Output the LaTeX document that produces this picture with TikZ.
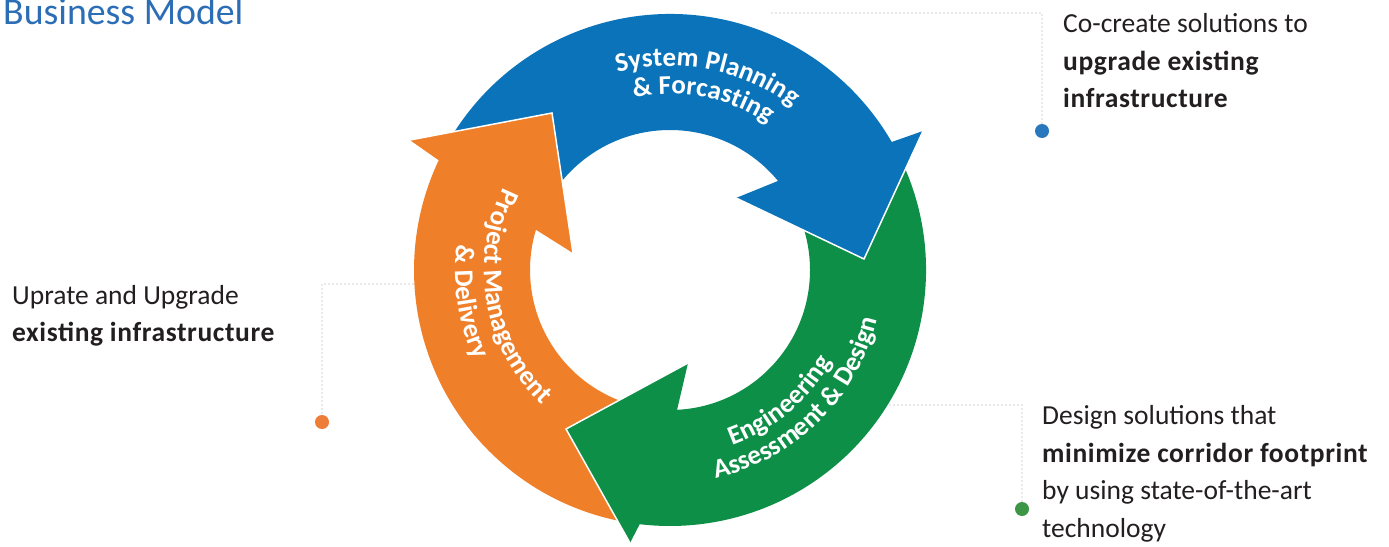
\documentclass[tikz,border=0pt]{standalone}
\usepackage{fontspec}
\setmainfont{Carlito}[BoldFeatures={LetterSpace=2.2}]
\newfontfamily\lblfam{Carlito}
\usetikzlibrary{calc,decorations.text}
\definecolor{cblue}{RGB}{10,115,185}
\definecolor{cgreen}{RGB}{14,143,72}
\definecolor{corange}{RGB}{240,127,41}
\definecolor{ctitle}{RGB}{44,110,182}
\definecolor{ctext}{RGB}{35,31,32}
\definecolor{dblue}{RGB}{40,120,190}
\definecolor{dorange}{RGB}{238,125,55}
\definecolor{dgreen}{RGB}{60,150,70}
\definecolor{cdots}{RGB}{160,160,160}
\newcommand\lblfont{\lblfam\fontsize{27}{30}\selectfont\bfseries}
\begin{document}
\begin{tikzpicture}[x=1pt,y=1pt,
  sidetext/.style={anchor=base west, inner sep=0pt, align=left, text=ctext, font=\fontsize{27.5}{37.5}\selectfont},
  leader/.style={draw=cdots, line width=1.3pt, dash pattern=on 0pt off 4pt, line cap=round},
  dotmark/.style={circle, inner sep=0pt, minimum size=14pt},
  tipedge/.style={draw=white, line width=1.5pt, line join=miter},
  lbl/.style={decorate, decoration={text along path, text align=center, text color=white, text={|\lblfont|#1}}},
]
\useasboundingbox (0,0) rectangle (1389,-546);
\fill[white] (0,0) rectangle (1389,-546);
\coordinate (C) at (670,-270);
\def\Ro{256pt}\def\Ri{140pt}
% arrowhead corners
\coordinate (bOB) at (923,-131); \coordinate (bT) at (864,-259); \coordinate (bIB) at (736,-198);
\coordinate (gOB) at (630,-543); \coordinate (gT) at (566,-429); \coordinate (gIB) at (688,-363);
\coordinate (oOB) at (410,-140); \coordinate (oT) at (552,-113); \coordinate (oIB) at (573,-253);
% orange arrow
\fill[corange] ($(C)+(263.2:\Ro)$) arc[start angle=263.2, end angle=154.6, radius=\Ro]
  -- (oOB) -- (oT) -- (oIB) -- ($(C)+(163.3:\Ri)$) arc[start angle=163.3, end angle=272.9, radius=\Ri] -- cycle;
% green arrow
\fill[cgreen] ($(C)+(30.0:\Ro)$) arc[start angle=30.0, end angle=-96.8, radius=\Ro]
  -- (gOB) -- (gT) -- (gIB) -- ($(C)+(-87.1:\Ri)$) arc[start angle=-87.1, end angle=39.5, radius=\Ri] -- cycle;
% blue arrow (tail hidden under the orange arrowhead)
\fill[cblue] ($(C)+(152:\Ro)$) arc[start angle=152, end angle=30.0, radius=\Ro]
  -- (bOB) -- (bT) -- (bIB) -- ($(C)+(39.5:\Ri)$) arc[start angle=39.5, end angle=158, radius=\Ri] -- cycle;
% orange arrowhead on top of blue tail
\fill[corange] (oOB) -- (oT) -- (oIB) -- cycle;
% white edges of arrowheads
\draw[tipedge] (oOB) -- (oT) -- (oIB);
\draw[tipedge] (gOB) -- (gT) -- (gIB);
\draw[tipedge] (bOB) -- (bT) -- (bIB);
% curved labels
\path[lbl={System Planning}] ($(C)+(140:204pt)$) arc[start angle=140, end angle=18, radius=204pt];
\path[lbl={{\&} Forcasting}] ($(C)+(140:176pt)$) arc[start angle=140, end angle=18, radius=176pt];
\path[lbl={Project Management}] ($(C)+(130:186pt)$) arc[start angle=130, end angle=250, radius=186pt];
\path[lbl={{\&} Delivery}] ($(C)+(129:215pt)$) arc[start angle=129, end angle=249, radius=215pt];
\path[lbl={Engineering}] ($(C)+(-110:186pt)$) arc[start angle=-110, end angle=10, radius=186pt];
\path[lbl={Assessment {\&} Design}] ($(C)+(-105.5:213pt)$) arc[start angle=-105.5, end angle=14.5, radius=213pt];
% title and side texts (anchor = baseline of the last line)
\node[anchor=base west, inner sep=0pt, text=ctitle, font=\fontsize{37.8}{40}\selectfont] (title) at (3,-24) {Business Model};
\node[sidetext] (ttop) at (1063,-107.5) {Co-create solutions to\\\textbf{upgrade existing}\\\textbf{infrastructure}};
\node[sidetext] (tleft) at (12,-341.7) {Uprate and Upgrade\\\textbf{existing infrastructure}};
\node[sidetext] (tbot) at (1042,-537) {Design solutions that\\\textbf{minimize corridor footprint}\\by using state-of-the-art\\technology};
% leaders and dots
\node[dotmark, fill=dblue] (bdot) at (1042,-131) {};
\node[dotmark, fill=dorange] (odot) at (322,-422) {};
\node[dotmark, fill=dgreen] (gdot) at (1022,-509) {};
\coordinate (bstart) at (772,-13);
\coordinate (ostart) at (413,-284);
\coordinate (gstart) at (890,-405);
\draw[leader] (bstart) -| (bdot);
\draw[leader] (ostart) -| (odot);
\draw[leader] (gstart) -| (gdot);
\end{tikzpicture}
\end{document}
